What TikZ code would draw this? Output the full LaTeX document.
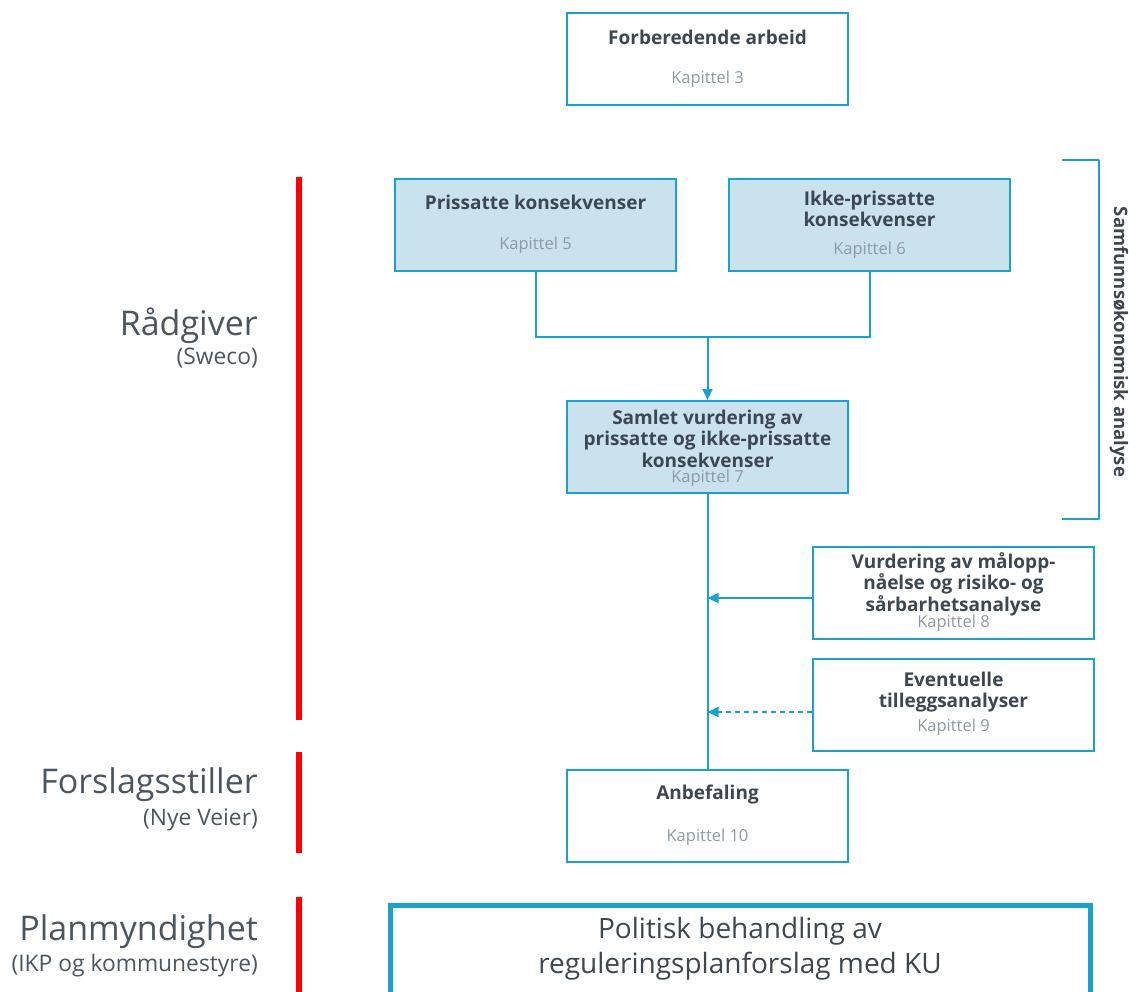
\documentclass[tikz,border=0pt]{standalone}
\usepackage{fontspec}
\setmainfont{Open Sans}
\usetikzlibrary{arrows.meta}
\definecolor{bl}{HTML}{1AA1CE}
\definecolor{lf}{HTML}{CAE2EE}
\definecolor{tx}{HTML}{3D4751}
\definecolor{kp}{HTML}{8D9AA5}
\definecolor{lb}{HTML}{4B5661}
\definecolor{rd}{HTML}{FF0000}
\tikzset{
  box/.style={draw=bl, line width=2pt, fill=white, minimum width=281pt, minimum height=92pt, inner sep=0pt},
  fbox/.style={box, fill=lf},
  ttl/.style={text=tx, font=\fontsize{19}{21.5}\selectfont\bfseries, align=center, inner sep=0pt},
  kap/.style={text=kp, font=\fontsize{16.5}{19}\selectfont, inner sep=0pt},
  conn/.style={draw=bl, line width=2pt},
  arr/.style={conn, -{Triangle[length=11pt,width=10pt]}},
  redbar/.style={draw=rd, line width=6pt},
  big/.style={text=lb, font=\fontsize{34}{38}\selectfont, anchor=east, inner sep=0pt},
  small/.style={text=lb, font=\fontsize{22.8}{26}\selectfont, anchor=east, inner sep=0pt},
}
\begin{document}
\begin{tikzpicture}[x=1pt,y=-1pt]
\useasboundingbox (0,0) rectangle (1129,991);
% boxes
\node[box] (forb) at (707.5,59) {};
\node[ttl] (forbT) at (707.5,37) {Forberedende arbeid};
\node[kap] (forbK) at (707.5,79) {Kapittel 3};

\node[fbox] (pris) at (535.5,224.5) {};
\node[ttl] (prisT) at (535.5,202) {Prissatte konsekvenser};
\node[kap] (prisK) at (535.5,245) {Kapittel 5};

\node[fbox] (ikke) at (869.5,224.5) {};
\node[ttl] (ikkeT) at (869.5,209) {Ikke-prissatte\\konsekvenser};
\node[kap] (ikkeK) at (869.5,250) {Kapittel 6};

\node[fbox] (samlet) at (707.5,447) {};
\node[ttl] (samletT) at (707.5,438.5) {Samlet vurdering av\\prissatte og ikke-prissatte\\konsekvenser};
\node[kap] (samletK) at (707.5,478) {Kapittel 7};

\node[box] (vurd) at (953.5,592.5) {};
\node[ttl] (vurdT) at (953.5,584) {Vurdering av målopp-\\nåelse og risiko- og\\sårbarhetsanalyse};
\node[kap] (vurdK) at (953.5,623) {Kapittel 8};

\node[box] (event) at (953.5,704.5) {};
\node[ttl] (eventT) at (953.5,692) {Eventuelle\\tilleggsanalyser};
\node[kap] (eventK) at (953.5,727) {Kapittel 9};

\node[box] (anbef) at (707.5,816) {};
\node[ttl] (anbefT) at (707.5,794) {Anbefaling};
\node[kap] (anbefK) at (707.5,837) {Kapittel 10};

% bottom box
\draw[draw=bl, line width=5pt] (390.5,905.5) rectangle (1090.5,1010);
\node[text=tx, font=\fontsize{28}{35}\selectfont, align=center, inner sep=0pt] (polit) at (740,949) {Politisk behandling av\\reguleringsplanforslag med KU};

% connectors
\coordinate (jm) at (707.5,337);
\draw[conn] (pris.south) |- (jm) -| (ikke.south);
\draw[arr] (jm) -- (samlet.north);
\draw[conn] (samlet.south) -- (anbef.north);
\coordinate (a8) at (707.5,598);
\coordinate (a9) at (707.5,712);
\draw[arr] (a8 -| vurd.west) -- (a8);
\draw[arr, dash pattern=on 5pt off 4pt] (a9 -| event.west) -- (a9);

% brace
\coordinate (b1) at (1062,160);
\coordinate (b2) at (1062,519);
\draw[conn, line join=round] (b1) -- (1099,160) -- (1099,519) -- (b2);
\node[text=tx, font=\fontsize{18.5}{21}\selectfont\bfseries, rotate=-90, inner sep=0pt] (sam) at (1119,342) {Samfunnsøkonomisk analyse};

% red bars
\draw[redbar] (299,177) -- (299,720);
\draw[redbar] (299,752) -- (299,853);
\draw[redbar] (299,897) -- (299,995);

% left labels
\node[big] (r1) at (258,326) {Rådgiver};
\node[small] (r2) at (258,358) {(Sweco)};
\node[big] (f1) at (258,785) {Forslagsstiller};
\node[small] (f2) at (258,820) {(Nye Veier)};
\node[big] (p1) at (258,932) {Planmyndighet};
\node[small] (p2) at (258,966) {(IKP og kommunestyre)};
\end{tikzpicture}
\end{document}
